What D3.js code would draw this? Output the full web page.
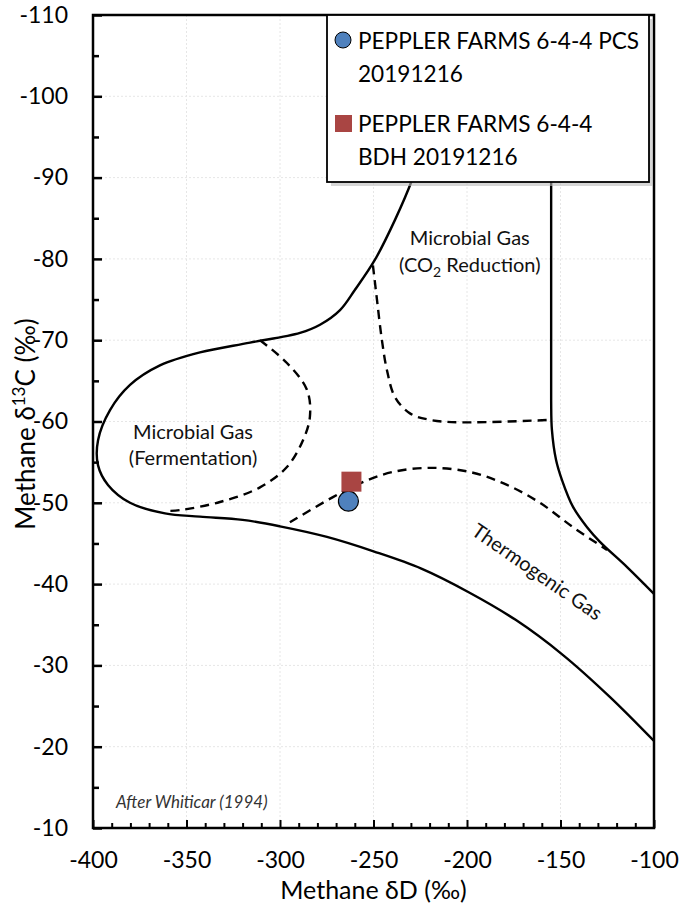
<!DOCTYPE html>
<html>
<head>
<meta charset="utf-8">
<script src="https://cdn.jsdelivr.net/npm/d3@7"></script>
<style>
  body { margin: 0; background: #fff; }
  svg { font-family: Lato, "Open Sans", sans-serif; }
</style>
</head>
<body>
<svg width="693" height="908"></svg>
<script>
// sample points (dD, d13C)
const pcs = [{ d: -263.4, c: -50.2 }];
const bdh = [{ d: -261.8, c: -52.6 }];
const seriesNames = ['PEPPLER FARMS 6-4-4 PCS 20191216', 'PEPPLER FARMS 6-4-4 BDH 20191216'];

// Whiticar field boundaries
const outerLeft = [
  [-210, -110], [-222, -95], [-229.4, -89.7], [-238.5, -84.8], [-249.2, -79.9], [-259.9, -76.2],
  [-267.9, -73.7], [-278.6, -71.9], [-289.3, -70.9], [-316, -69.7], [-342.8, -68.5],
  [-364.2, -66.9], [-380.2, -64.5], [-390.9, -61.4], [-397.3, -57.7], [-397.3, -54.6],
  [-392, -52.2], [-380.2, -50.0], [-361.5, -48.7], [-342.8, -48.3], [-320, -47.9],
  [-300, -47.1], [-274.9, -45.8], [-249.6, -44.0], [-224.4, -41.9], [-199.1, -39.0],
  [-174.0, -35.6], [-148.8, -31.3], [-123.5, -26.1], [-100, -20.7]
];
const outerRight = [
  [-155, -110], [-155, -75], [-155, -62.6], [-154.6, -59.0], [-152.4, -55.3], [-149.2, -52.8],
  [-143.3, -49.5], [-135.8, -47.0], [-128.9, -45.2], [-114.4, -42.1], [-100, -38.8]
];
const fermentDash = [
  [-310.7, -70.0], [-296.3, -67.2], [-285.6, -63.9], [-284.0, -60.6], [-287.7, -57.7],
  [-296.3, -54.4], [-310.7, -51.9], [-332.1, -50.1], [-353.5, -49.1], [-360.4, -49.0]
];
const co2Dash = [
  [-250.3, -79.2], [-248.1, -74.9], [-245.5, -70.0], [-242.8, -66.3], [-238.5, -63.0],
  [-230.5, -61.0], [-219.8, -60.2], [-203.7, -59.9], [-155, -60.2]
];
const thermoDash = [
  [-294.7, -47.6], [-271.7, -50.7], [-257.2, -52.4], [-239.6, -53.8], [-218.2, -54.3],
  [-196.8, -53.7], [-178.6, -52.2], [-161.0, -50.0], [-143.3, -47.0], [-125.1, -44.2]
];

const xTicks = [-400, -350, -300, -250, -200, -150, -100];
const yTicks = [-110, -100, -90, -80, -70, -60, -50, -40, -30, -20, -10];

const svg = d3.select('svg');
const pL = 93, pR = 654, pT = 15, pB = 828;

const x = d3.scaleLinear().domain([-400, -100]).range([pL, pR]);
const y = d3.scaleLinear().domain([-110, -10]).range([pT, pB]);

// gridlines
const grid = svg.append('g');
grid.selectAll('.gx').data(xTicks.slice(1, -1)).enter().append('line')
  .attr('x1', d => x(d)).attr('x2', d => x(d)).attr('y1', pT).attr('y2', pB)
  .attr('stroke', '#e6e6e6').attr('stroke-dasharray', '2,2');
grid.selectAll('.gy').data(yTicks.slice(1, -1)).enter().append('line')
  .attr('y1', d => y(d)).attr('y2', d => y(d)).attr('x1', pL).attr('x2', pR)
  .attr('stroke', '#e6e6e6').attr('stroke-dasharray', '2,2');

// axes, ticks inside
const xAxis = svg.append('g').attr('transform', `translate(0,${pB})`)
  .call(d3.axisBottom(x).tickValues(d3.range(-400, -99, 10)).tickSize(-6)
    .tickFormat(d => xTicks.includes(d) ? d : ''));
xAxis.selectAll('.tick line').attr('y2', d => xTicks.includes(d) ? -8 : -5)
  .attr('stroke', '#000').attr('stroke-width', 2);
xAxis.selectAll('text').attr('y', 24).attr('font-size', 23).attr('fill', '#000')
  .attr('font-family', 'Lato, sans-serif');
xAxis.select('.domain').remove();

const yAxis = svg.append('g').attr('transform', `translate(${pL},0)`)
  .call(d3.axisLeft(y).tickValues(d3.range(-110, -9, 5)).tickSize(-6)
    .tickFormat(d => yTicks.includes(d) ? d : ''));
yAxis.selectAll('.tick line').attr('x2', d => yTicks.includes(d) ? 9 : 6)
  .attr('stroke', '#000').attr('stroke-width', 2.5);
yAxis.selectAll('text').attr('x', -25).attr('font-size', 23).attr('fill', '#000')
  .attr('font-family', 'Lato, sans-serif');
yAxis.select('.domain').remove();

// frame
svg.append('rect').attr('x', pL).attr('y', pT)
  .attr('width', pR - pL).attr('height', pB - pT)
  .attr('fill', 'none').attr('stroke', '#000').attr('stroke-width', 2.5);

// boundaries
svg.append('clipPath').attr('id', 'plot').append('rect')
  .attr('x', pL).attr('y', pT).attr('width', pR - pL).attr('height', pB - pT);
const line = d3.line().x(d => x(d[0])).y(d => y(d[1])).curve(d3.curveCatmullRom.alpha(0.5));
const bounds = svg.append('g').attr('clip-path', 'url(#plot)');
[outerLeft, outerRight].forEach(p => bounds.append('path').attr('d', line(p))
  .attr('fill', 'none').attr('stroke', '#000').attr('stroke-width', 2.4));
[fermentDash, co2Dash, thermoDash].forEach(p => bounds.append('path').attr('d', line(p))
  .attr('fill', 'none').attr('stroke', '#000').attr('stroke-width', 2.4)
  .attr('stroke-dasharray', '9,6'));

// field labels
const lab = svg.append('g').attr('font-size', 20).attr('fill', '#111').attr('text-anchor', 'middle');
lab.append('text').attr('x', x(-346.5)).attr('y', y(-57.9)).text('Microbial Gas');
lab.append('text').attr('x', x(-346.5)).attr('y', y(-54.6)).text('(Fermentation)');
lab.append('text').attr('x', x(-198.5)).attr('y', y(-81.7)).text('Microbial Gas');
const co2 = lab.append('text').attr('x', x(-198.5)).attr('y', y(-78.4));
co2.append('tspan').text('(CO');
co2.append('tspan').attr('font-size', 14).attr('dy', 5).text('2');
co2.append('tspan').attr('dy', -5).text(' Reduction)');
lab.append('text').attr('transform', `translate(${x(-162.5)},${y(-41.5)}) rotate(34.7)`)
  .attr('dy', '0.35em').text('Thermogenic Gas');
svg.append('text').attr('x', 116).attr('y', 808).attr('font-size', 17)
  .attr('font-style', 'italic').attr('fill', '#333').text('After Whiticar (1994)');

// points
svg.selectAll('.pcs').data(pcs).enter().append('circle')
  .attr('cx', d => x(d.d)).attr('cy', d => y(d.c)).attr('r', 10)
  .attr('fill', '#4F81BD').attr('stroke', '#000').attr('stroke-width', 1.2);
svg.selectAll('.bdh').data(bdh).enter().append('rect')
  .attr('x', d => x(d.d) - 10).attr('y', d => y(d.c) - 10).attr('width', 20).attr('height', 20)
  .attr('fill', '#A94543');

// legend
const lg = svg.append('g');
lg.append('rect').attr('x', 331).attr('y', 19).attr('width', 322).attr('height', 167).attr('fill', '#bbb').attr('opacity', 0.6);
lg.append('rect').attr('x', 327).attr('y', 15).attr('width', 322).attr('height', 167)
  .attr('fill', '#fff').attr('stroke', '#000').attr('stroke-width', 1.8);
lg.append('circle').attr('cx', 343).attr('cy', 40).attr('r', 8)
  .attr('fill', '#4F81BD').attr('stroke', '#000').attr('stroke-width', 1);
lg.append('rect').attr('x', 335).attr('y', 115).attr('width', 17).attr('height', 17).attr('fill', '#A94543');
const lt = lg.append('g').attr('font-size', 22.6).attr('fill', '#000');
lt.append('text').attr('x', 358).attr('y', 49).text('PEPPLER FARMS 6-4-4 PCS');
lt.append('text').attr('x', 358).attr('y', 82).text('20191216');
lt.append('text').attr('x', 358).attr('y', 132).text('PEPPLER FARMS 6-4-4');
lt.append('text').attr('x', 358).attr('y', 165).text('BDH 20191216');

// axis titles
svg.append('text').attr('x', (pL + pR) / 2).attr('y', 899).attr('text-anchor', 'middle')
  .attr('font-size', 25).text('Methane \u03B4D (\u2030)');
const yt = svg.append('text').attr('transform', `translate(35,424) rotate(-90)`)
  .attr('text-anchor', 'middle').attr('font-size', 26);
yt.append('tspan').text('Methane \u03B4');
yt.append('tspan').attr('font-size', 17).attr('dy', -10).text('13');
yt.append('tspan').attr('dy', 10).text('C (\u2030)');
</script>
</body>
</html>
